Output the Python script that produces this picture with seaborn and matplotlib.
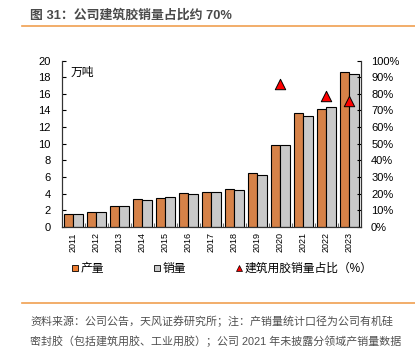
import matplotlib
matplotlib.use("Agg")
import pandas as pd
import matplotlib.pyplot as plt
import matplotlib.lines as mlines
from matplotlib.ticker import MultipleLocator, PercentFormatter
import seaborn as sns

ORANGE = "#ED7D31"
GRAY = "#C9C9C9"
LINE_ORANGE = "#F0A050"
TEXT_GRAY = "#505050"

years = [str(y) for y in range(2011, 2024)]
production = [1.53, 1.81, 2.55, 3.30, 3.42, 4.06, 4.18, 4.58, 6.43, 9.80, 13.66, 14.14, 18.60]
sales = [1.53, 1.81, 2.55, 3.18, 3.58, 3.94, 4.18, 4.42, 6.23, 9.80, 13.37, 14.39, 18.40]
share_years = ["2020", "2022", "2023"]
share_pct = [86.0, 78.5, 76.0]

series_names = ["产量", "销量"]
share_label = "建筑用胶销量占比（%）"
unit_label = "万吨"
title = "图 31：公司建筑胶销量占比约 70%"
note_1 = "资料来源：公司公告，天风证券研究所；注：产销量统计口径为公司有机硅"
note_2 = "密封胶（包括建筑用胶、工业用胶）；公司 2021 年未披露分领域产销量数据"

df = pd.DataFrame({
    "year": years * 2,
    "value": production + sales,
    "series": [series_names[0]] * len(years) + [series_names[1]] * len(years),
})

plt.rcParams["font.family"] = ["Liberation Sans", "Noto Sans CJK SC"]
plt.rcParams["axes.unicode_minus"] = False

fig = plt.figure(figsize=(4.15, 3.51), dpi=100)
ax = fig.add_axes([62 / 415, 1 - 226.7 / 351, (360.7 - 62) / 415, (226.7 - 60.7) / 351])

sns.barplot(data=df, x="year", y="value", hue="series", order=years,
            hue_order=series_names, palette=[ORANGE, GRAY], edgecolor="black",
            linewidth=0.8, width=0.84, gap=0.0, legend=False, ax=ax)

ax2 = ax.twinx()
sns.stripplot(x=share_years, y=share_pct, order=years, jitter=False,
              marker="^", color="#FF0000", edgecolor="black", linewidth=0.7,
              size=7.5, ax=ax2, zorder=5)

ax.set_xlim(-0.5, len(years) - 0.5)
ax.set_ylim(0, 20)
ax.yaxis.set_major_locator(MultipleLocator(2))
ax2.set_ylim(0, 100)
ax2.yaxis.set_major_locator(MultipleLocator(10))
ax2.yaxis.set_major_formatter(PercentFormatter(100, decimals=0))

for a in (ax, ax2):
    a.set_xlabel("")
    a.set_ylabel("")
    a.spines["top"].set_visible(False)
    for s in a.spines.values():
        s.set_linewidth(0.8)
        s.set_color("#333333")

ax.set_xticks(range(len(years)))
ax.set_xticklabels(years, rotation=90, fontsize=6.5)
ax.tick_params(axis="x", length=0, pad=4)
ax.set_xticks([i + 0.5 for i in range(len(years) - 1)], minor=True)
ax.tick_params(axis="x", which="minor", direction="in", length=3, color="#555555")
ax.tick_params(axis="y", direction="in", length=3, labelsize=8, pad=8)
ax2.tick_params(axis="y", direction="in", length=3, labelsize=8, pad=7.5)

ax.text(0.03, 0.965, unit_label, transform=ax.transAxes, fontsize=8.5,
        ha="left", va="top")

handles = [
    mlines.Line2D([0], [0], ls="none", marker="s", markersize=5,
                  markerfacecolor=ORANGE, markeredgecolor="black",
                  markeredgewidth=0.6, label=series_names[0]),
    mlines.Line2D([0], [0], ls="none", marker="s", markersize=5,
                  markerfacecolor=GRAY, markeredgecolor="black",
                  markeredgewidth=0.6, label=series_names[1]),
    mlines.Line2D([0], [0], ls="none", marker="^", markersize=4.5,
                  markerfacecolor="#FF0000", markeredgecolor="black",
                  markeredgewidth=0.5, label=share_label),
]
fig.legend(handles=handles, loc="center", bbox_to_anchor=(0.535, 1 - 269 / 351),
           ncol=3, frameon=False, fontsize=8.5, handlelength=0.6,
           handletextpad=0.15, columnspacing=4.2)

fig.text(30 / 415, 1 - 15 / 351, title, fontsize=9.3, fontweight="bold",
         color="#4a4a4a", ha="left", va="center")
fig.add_artist(mlines.Line2D([22 / 415, 1], [1 - 26 / 351] * 2,
                             color=LINE_ORANGE, lw=1.2))
fig.add_artist(mlines.Line2D([22 / 415, 1], [1 - 303 / 351] * 2,
                             color=LINE_ORANGE, lw=1.2))
fig.text(30 / 415, 1 - 321.5 / 351, note_1, fontsize=7.9, color=TEXT_GRAY,
         ha="left", va="center")
fig.text(30 / 415, 1 - 341 / 351, note_2, fontsize=7.9, color=TEXT_GRAY,
         ha="left", va="center")

fig.savefig("out.png", dpi=100, facecolor="white")
